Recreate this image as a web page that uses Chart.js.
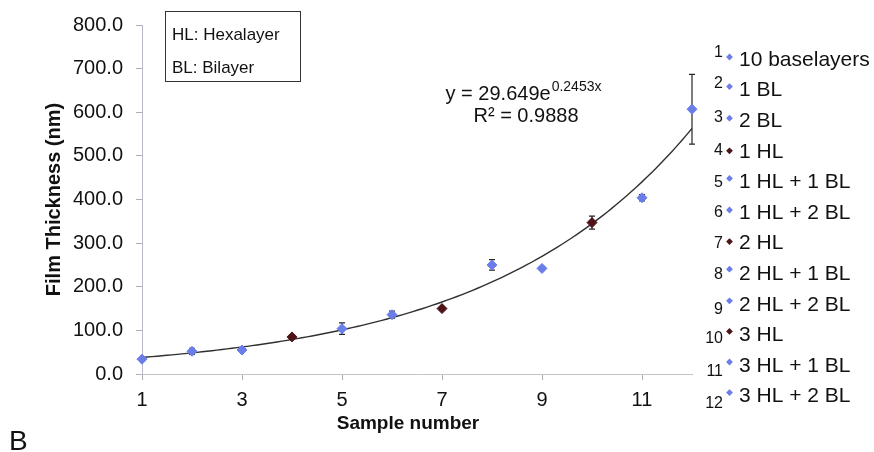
<!DOCTYPE html>
<html>
<head>
<meta charset="utf-8">
<script src="https://cdn.jsdelivr.net/npm/chart.js@4/dist/chart.umd.min.js"></script>
<style>
  html, body { margin: 0; padding: 0; background: #fff; }
  canvas { display: block; }
</style>
</head>
<body>
<canvas id="chart" width="874" height="452"></canvas>
<script>
// Film thickness per sample, with standard-deviation error bars
const sampleNumbers = [1, 2, 3, 4, 5, 6, 7, 8, 9, 10, 11, 12];
const thickness = [34, 52, 55, 85, 104, 136, 150, 250, 242, 347, 404, 607];
const thicknessError = [3, 7, 5, 5, 13, 8, 4, 12, 4, 15, 7, 80];
const sampleLabels = [
  '10 baselayers', '1 BL', '2 BL', '1 HL', '1 HL + 1 BL', '1 HL + 2 BL',
  '2 HL', '2 HL + 1 BL', '2 HL + 2 BL', '3 HL', '3 HL + 1 BL', '3 HL + 2 BL'
];
const xTickValues = [1, 3, 5, 7, 9, 11];
const yTickValues = [0, 100, 200, 300, 400, 500, 600, 700, 800];

// Exponential trend line y = a * e^(b x)
const trendA = 29.649;
const trendB = 0.2453;
const trendR2 = 0.9888;

const FONT = "'Liberation Sans', Arial, Helvetica, sans-serif";
const BLUE = '#6b7de9';
const DARK = '#4d1518';
const TEXT = '#111111';

// Pure hexalayer samples are drawn dark, all others blue
const pointColors = sampleLabels.map(l => /^\d+ HL$/.test(l) ? DARK : BLUE);

const points = sampleNumbers.map((n, i) => ({ x: n, y: thickness[i] }));
const trend = [];
for (let k = 0; k <= 110; k++) {
  const xv = 1 + k * 0.1;
  trend.push({ x: xv, y: trendA * Math.exp(trendB * xv) });
}

// Vertical offsets of the numbered side key (number / marker relative to the label)
const keyNumberShift = [-7, -7, -4, -1, 0, 0, 0, 0, 5, 3, 6, 7];
const keyMarkerShift = [-3, -4, -3, -1, -4, -3, -2, -5, -4, -4, -4, -4];

const overlay = {
  id: 'overlay',
  beforeDatasetsDraw(chart) {
    const { ctx, scales: { x, y } } = chart;
    ctx.save();
    ctx.strokeStyle = '#262626';
    ctx.lineWidth = 1.2;
    sampleNumbers.forEach((n, i) => {
      const px = x.getPixelForValue(n);
      const top = y.getPixelForValue(thickness[i] + thicknessError[i]);
      const bot = y.getPixelForValue(thickness[i] - thicknessError[i]);
      ctx.beginPath();
      ctx.moveTo(px, top); ctx.lineTo(px, bot);
      ctx.moveTo(px - 3, top); ctx.lineTo(px + 3, top);
      ctx.moveTo(px - 3, bot); ctx.lineTo(px + 3, bot);
      ctx.stroke();
    });
    ctx.restore();
  },
  afterDraw(chart) {
    const { ctx } = chart;
    ctx.save();
    ctx.fillStyle = TEXT;

    // Abbreviation box
    ctx.strokeStyle = '#333';
    ctx.lineWidth = 1;
    ctx.strokeRect(165.5, 11.5, 135, 70);
    ctx.font = `17px ${FONT}`;
    ctx.textAlign = 'left';
    ctx.textBaseline = 'middle';
    ctx.fillText('HL: Hexalayer', 172, 35);
    ctx.fillText('BL: Bilayer', 172, 68);

    // Trend equation
    const mainText = `y = ${trendA}e`;
    const supText = `${trendB}x`;
    ctx.textBaseline = 'alphabetic';
    ctx.font = `20px ${FONT}`;
    const wMain = ctx.measureText(mainText).width;
    ctx.font = `14px ${FONT}`;
    const wSup = ctx.measureText(supText).width;
    const x0 = 523 - (wMain + wSup) / 2;
    ctx.font = `20px ${FONT}`;
    ctx.fillText(mainText, x0, 100);
    ctx.font = `14px ${FONT}`;
    ctx.fillText(supText, x0 + wMain + 1, 91);
    ctx.font = `20px ${FONT}`;
    ctx.textAlign = 'center';
    ctx.fillText(`R\u00B2 = ${trendR2}`, 526, 122);

    // Axis title under the sample numbers
    ctx.font = `bold 19px ${FONT}`;
    ctx.textBaseline = 'middle';
    ctx.fillText('Sample number', 408, 424);

    // Numbered sample key
    sampleLabels.forEach((label, i) => {
      const cy = 60 + i * 30.6;
      ctx.textBaseline = 'middle';
      ctx.font = `16px ${FONT}`;
      ctx.textAlign = 'right';
      ctx.fillStyle = TEXT;
      ctx.fillText(String(sampleNumbers[i]), 723, cy + keyNumberShift[i]);
      // marker
      const mx = 729.5, my = cy + keyMarkerShift[i];
      ctx.fillStyle = pointColors[i];
      ctx.beginPath();
      ctx.moveTo(mx, my - 3.4); ctx.lineTo(mx + 3.4, my);
      ctx.lineTo(mx, my + 3.4); ctx.lineTo(mx - 3.4, my);
      ctx.closePath(); ctx.fill();
      ctx.fillStyle = TEXT;
      ctx.font = `21px ${FONT}`;
      ctx.textAlign = 'left';
      ctx.fillText(label, 739, cy);
    });

    // Panel letter
    ctx.font = `28px ${FONT}`;
    ctx.textAlign = 'left';
    ctx.textBaseline = 'alphabetic';
    ctx.fillText('B', 9, 450);
    ctx.restore();
  }
};

new Chart(document.getElementById('chart'), {
  type: 'scatter',
  data: {
    datasets: [
      {
        label: 'Film thickness',
        data: points,
        pointStyle: 'rectRot',
        pointRadius: 5,
        pointHoverRadius: 5,
        pointBackgroundColor: pointColors,
        pointBorderColor: pointColors,
        pointBorderWidth: 1,
        clip: false,
        order: 0
      },
      {
        type: 'line',
        label: 'Expon. trend',
        data: trend,
        borderColor: '#303030',
        borderWidth: 1.4,
        pointRadius: 0,
        fill: false,
        tension: 0,
        clip: false,
        order: 1
      }
    ]
  },
  options: {
    responsive: false,
    animation: false,
    layout: { padding: { top: 17, right: 182, left: 0, bottom: 0 } },
    plugins: {
      legend: { display: false },
      tooltip: { enabled: false }
    },
    scales: {
      x: {
        type: 'linear',
        min: 1,
        max: 12,
        afterFit(scale) { scale.height = 78; },
        afterBuildTicks(scale) { scale.ticks = xTickValues.map(v => ({ value: v })); },
        border: { color: '#c4c4c4', width: 1, dash: [6, 3] },
        grid: { drawOnChartArea: false, drawTicks: true, tickLength: 6, color: '#b0b0b0' },
        ticks: {
          padding: 8,
          color: TEXT,
          font: { family: FONT, size: 20 },
          callback: v => String(v),
          maxRotation: 0
        }
      },
      y: {
        type: 'linear',
        min: 0,
        max: 800,
        afterFit(scale) { scale.width = 142; },
        afterBuildTicks(scale) { scale.ticks = yTickValues.map(v => ({ value: v })); },
        border: { color: '#b8b8c8', width: 1, dash: [2, 2] },
        grid: { drawOnChartArea: false, drawTicks: true, tickLength: 6, color: '#b0b0b0' },
        ticks: {
          padding: 13,
          color: TEXT,
          font: { family: FONT, size: 20 },
          callback: v => Number(v).toFixed(1)
        },
        title: {
          display: true,
          text: 'Film Thickness (nm)',
          color: TEXT,
          font: { family: FONT, size: 20, weight: 'bold' },
          padding: { top: 42, bottom: 0 }
        }
      }
    }
  },
  plugins: [overlay]
});
</script>
</body>
</html>
